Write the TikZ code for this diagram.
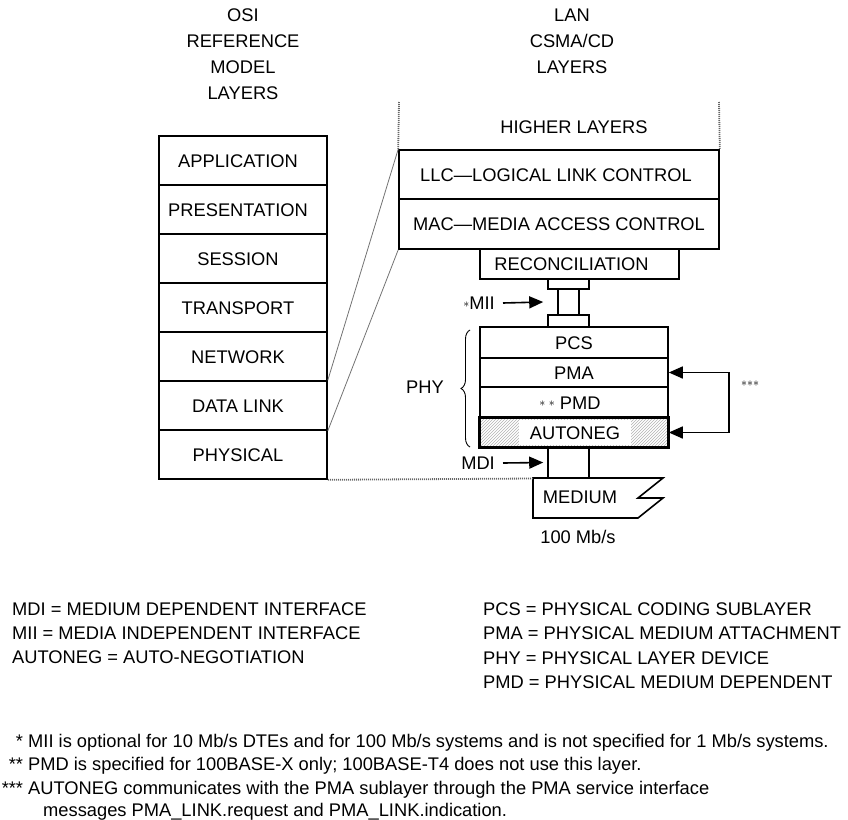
\documentclass[tikz,border=0pt]{standalone}
\usepackage{fontspec}
\setmainfont{Liberation Sans}
\usetikzlibrary{arrows.meta,patterns,decorations.pathreplacing}
\begin{document}
\begin{tikzpicture}[x=1pt,y=-1pt,
  every node/.style={inner sep=0pt, text height=13.1pt, text depth=0pt, font=\fontsize{18.3}{22}\selectfont},
  box/.style={draw, line width=1.6pt, rectangle},
  tshift/.style={execute at begin node={\kern#1pt}, execute at end node={\kern-#1pt}},
  osibox/.style={box, minimum width=168pt, minimum height=49pt, tshift=-5},
  conn/.style={box, text height=0pt, text depth=0pt},
  phyrow/.style={box, minimum width=188pt},
  tri/.style={line width=1.6pt, -{Triangle[length=14pt,width=12pt]}},
  thinline/.style={draw=black!55, line width=0.8pt},
  hatchline/.style={draw=black!60, line width=1.8pt, dash pattern=on 1pt off 1pt},
  leg/.style={anchor=west},
  small/.style={font=\fontsize{13}{13}\selectfont}
]
\useasboundingbox (0,0) rectangle (848,819);

% headers
\node (h1) at (243,15) {OSI};
\node (h2) at (243,41) {REFERENCE};
\node (h3) at (243,67) {MODEL};
\node (h4) at (243,93) {LAYERS};
\node (l1) at (572,15) {LAN};
\node (l2) at (572,41) {CSMA/CD};
\node (l3) at (572,67) {LAYERS};

% OSI column
\node[osibox] (app)   at (243,160.5) {APPLICATION};
\node[osibox] (pres)  at (243,209.5) {PRESENTATION};
\node[osibox] (sess)  at (243,258.5) {SESSION};
\node[osibox] (trans) at (243,307.5) {TRANSPORT};
\node[osibox] (net)   at (243,356.5) {NETWORK};
\node[osibox] (dl)    at (243,405.5) {DATA LINK};
\node[osibox] (phys)  at (243,454.5) {PHYSICAL};

% LAN column
\coordinate (hlL) at (399,102);
\coordinate (hlR) at (719,102);
\node (higher) at (574,127) {HIGHER LAYERS};
\node[box, minimum width=320pt, minimum height=49pt, tshift=-3] (llc) at (559,174.5) {LLC---LOGICAL LINK CONTROL};
\node[box, minimum width=320pt, minimum height=50pt] (mac) at (559,224) {MAC---MEDIA ACCESS CONTROL};
\draw[hatchline] (hlL) -- (llc.north west);
\draw[hatchline] (hlR) -- (llc.north east);
\node[box, minimum width=199pt, minimum height=30pt, tshift=-8] (rec) at (579.5,264) {RECONCILIATION};

% MII connector
\node[conn, minimum width=41pt, minimum height=10pt] (miitop) at (568.5,284) {};
\node[conn, minimum width=21pt, minimum height=26pt] (miicol) at (568.5,302) {};
\node[conn, minimum width=41pt, minimum height=12pt] (miibot) at (568.5,321) {};
\node[anchor=east] (miil) at (495,303) {\raisebox{2.5pt}{\fontsize{13}{13}\selectfont$\ast$}MII};
\draw[tri] ([xshift=8pt]miil.east) -- ([xshift=-14pt]miicol.west);

% PHY stack
\node[phyrow, minimum height=31pt] (pcs) at (574,342.5) {PCS};
\node[phyrow, minimum height=29pt] (pma) at (574,372.5) {PMA};
\node[phyrow, minimum height=31pt, tshift=-4] (pmd) at (574,402.5) {\raisebox{2.5pt}{\fontsize{13}{13}\selectfont${\ast}\;{\ast}$}\ PMD};
\node[phyrow, minimum height=29pt, pattern=north east lines, pattern color=black!30] (auto) at (574,432.5) {};
\node[fill=white, minimum width=112pt, minimum height=25pt] (autotxt) at (575,432.5) {AUTONEG};
\draw[line width=1.6pt] (auto.north west) rectangle (auto.south east);

% brace and PHY label
\draw[line width=0.9pt, decorate, decoration={brace, amplitude=9pt}] (470,447) -- (470,330);
\node (phy) at (425,387) {PHY};

% *** loop
\draw[line width=1.6pt, {Triangle[length=14pt,width=12pt]}-{Triangle[length=14pt,width=12pt]}] (pma.east) -- ++(60,0) |- (auto.east);
\node[small] (stars) at (750,380) {${\ast}{\ast}{\ast}$};

% MDI connector
\node[conn, minimum width=41pt, minimum height=31pt] (mdib) at (568.5,462.5) {};
\node[anchor=east] (mdil) at (495,463) {MDI};
\draw[tri] ([xshift=8pt]mdil.east) -- ([xshift=-4pt]mdib.west);

% medium
\draw[line width=1.6pt] (533,478) -- (663,478) -- (638,498) -- (663,498) -- (638,518) -- (533,518) -- cycle;
\coordinate (medtop) at (533,478.5);
\node (medium) at (580,497) {MEDIUM};
\node (rate) at (578,537) {100 Mb/s};

% mapping lines
\draw[thinline] (llc.north west) -- (dl.north east);
\draw[thinline] (mac.south west) -- (dl.south east);
\draw[hatchline] (phys.south east) -- (medtop);

% legend
\node[leg] (g1) at (12,609) {MDI = MEDIUM DEPENDENT INTERFACE};
\node[leg] (g2) at (12,633) {MII = MEDIA INDEPENDENT INTERFACE};
\node[leg] (g3) at (12,657) {AUTONEG = AUTO-NEGOTIATION};
\node[leg] (g4) at (483,609) {PCS = PHYSICAL CODING SUBLAYER};
\node[leg] (g5) at (483,633) {PMA = PHYSICAL MEDIUM ATTACHMENT};
\node[leg] (g6) at (483,658) {PHY = PHYSICAL LAYER DEVICE};
\node[leg] (g7) at (483,682) {PMD = PHYSICAL MEDIUM DEPENDENT};

% footnotes
\node[leg] (f1) at (28,741) {\llap{* }MII is optional for 10 Mb/s DTEs and for 100 Mb/s systems and is not specified for 1 Mb/s systems.};
\node[leg] (f2) at (28,764) {\llap{** }PMD is specified for 100BASE-X only; 100BASE-T4 does not use this layer.};
\node[leg] (f3) at (28,788) {\llap{*** }AUTONEG communicates with the PMA sublayer through the PMA service interface};
\node[leg] (f4) at (43,810) {messages PMA\_LINK.request and PMA\_LINK.indication.};
\end{tikzpicture}
\end{document}
